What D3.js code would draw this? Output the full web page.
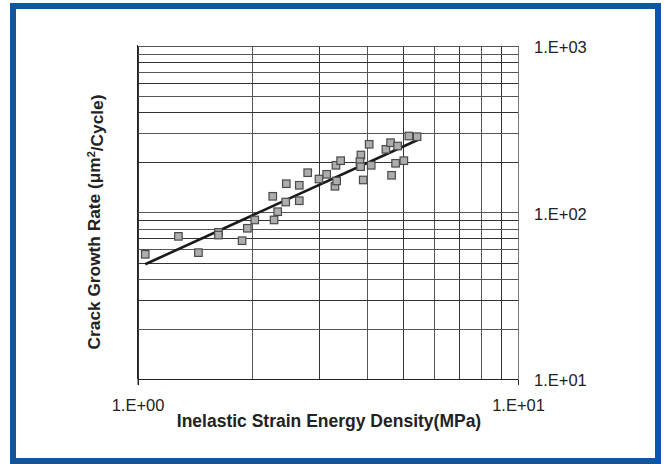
<!DOCTYPE html>
<html>
<head>
<meta charset="utf-8">
<script src="https://cdn.jsdelivr.net/npm/d3@7"></script>
<style>
  html, body { margin: 0; padding: 0; background: #fff; }
  svg { display: block; }
  text { font-family: "Liberation Sans", Arial, Helvetica, sans-serif; fill: #222; }
</style>
</head>
<body>
<svg id="chart" width="665" height="464"></svg>
<script>
// Data
const energyDensity = [1.048, 1.281, 1.446, 1.632, 1.632, 1.883, 1.944, 2.033, 2.267, 2.285,
  2.336, 2.452, 2.461, 2.662, 2.662, 2.801, 2.999, 3.142, 3.303, 3.337, 3.323, 3.419,
  3.865, 3.842, 3.858, 3.919, 4.063, 4.113, 4.496, 4.625, 4.653, 4.767, 4.826, 5.012,
  5.167, 5.431];
const growthRate = [56.1, 71.9, 57.4, 76.0, 73.2, 67.7, 80.4, 90.2, 125.1, 90.2,
  101.1, 115.6, 148.9, 145.7, 117.7, 173.4, 158.9, 169.6, 143.7, 154.6, 192.1, 204.7,
  221.5, 201.9, 188.4, 156.8, 256.8, 192.1, 239.7, 262.5, 167.3, 197.5, 250.8, 204.7,
  288.0, 285.3];
const trendX = [1.048, 5.498];
const trendY = [48.9, 275.2];
const xTickValues = [1, 10];
const xTickLabels = ["1.E+00", "1.E+01"];
const yTickValues = [10, 100, 1000];
const yTickLabels = ["1.E+01", "1.E+02", "1.E+03"];
const xTitle = "Inelastic Strain Energy Density(MPa)";

const svg = d3.select("#chart");

// Blue frame
svg.append("rect")
  .attr("x", 13).attr("y", 6).attr("width", 645).attr("height", 455)
  .attr("fill", "#fff").attr("stroke", "#0c56a5").attr("stroke-width", 6);

const x = d3.scaleLog().domain([1, 10]).range([137.5, 518]);
const y = d3.scaleLog().domain([10, 1000]).range([379, 46]);

const grid = svg.append("g").attr("shape-rendering", "crispEdges");
// Vertical grid
grid.selectAll("line.vx").data(x.ticks()).join("line")
  .attr("x1", d => Math.round(x(d)) + 0.5).attr("x2", d => Math.round(x(d)) + 0.5)
  .attr("y1", y(1000)).attr("y2", y(10))
  .attr("stroke", (d, i) => i % 2 ? "#555" : "#333").attr("stroke-width", 1);
// Horizontal grid
grid.selectAll("line.hy").data(y.ticks()).join("line")
  .attr("x1", x(1)).attr("x2", x(10))
  .attr("y1", d => Math.round(y(d)) + 0.5).attr("y2", d => Math.round(y(d)) + 0.5)
  .attr("stroke", (d, i) => i % 2 ? "#555" : "#333").attr("stroke-width", 1);

// Bottom axis
const xAxis = d3.axisBottom(x).tickValues(xTickValues)
  .tickFormat((d, i) => xTickLabels[i]).tickSize(6).tickPadding(14);
const gx = svg.append("g").attr("transform", `translate(0,${y(10)})`).call(xAxis);
gx.select(".domain").attr("stroke", "#222").attr("shape-rendering", "crispEdges");
gx.selectAll(".tick line").attr("stroke", "#222");
gx.selectAll("text").style("font-size", "16.5px").attr("fill", "#222")
  .style("font-family", "'Liberation Sans', Arial, sans-serif");

// Right-side tick labels (y)
const yAxis = d3.axisRight(y).tickValues(yTickValues)
  .tickFormat((d, i) => yTickLabels[i]).tickSize(0).tickPadding(16);
const gy = svg.append("g").attr("transform", `translate(${x(10)},0)`).call(yAxis);
gy.select(".domain").attr("stroke", "#777").attr("shape-rendering", "crispEdges");
gy.selectAll("text").style("font-size", "16.5px").attr("fill", "#222")
  .style("font-family", "'Liberation Sans', Arial, sans-serif").attr("dy", "0.4em");

// Left and top border
svg.append("line").attr("x1", x(1)).attr("x2", x(1)).attr("y1", y(1000) - 1).attr("y2", y(10))
  .attr("stroke", "#222").attr("shape-rendering", "crispEdges");
svg.append("line").attr("x1", x(1)).attr("x2", x(10)).attr("y1", y(1000)).attr("y2", y(1000))
  .attr("stroke", "#555").attr("shape-rendering", "crispEdges");

// Trend line
svg.append("line")
  .attr("x1", x(trendX[0])).attr("y1", y(trendY[0]))
  .attr("x2", x(trendX[1])).attr("y2", y(trendY[1]))
  .attr("stroke", "#1a1a1a").attr("stroke-width", 2.6);

// Markers
const pts = energyDensity.map((v, i) => [v, growthRate[i]]);
svg.append("g").selectAll("rect").data(pts).join("rect")
  .attr("x", d => x(d[0]) - 3.75).attr("y", d => y(d[1]) - 3.75)
  .attr("width", 7.5).attr("height", 7.5)
  .attr("fill", "#adadad").attr("stroke", "#4a4a4a").attr("stroke-width", 1.2);

// Axis titles
svg.append("text")
  .attr("x", 329).attr("y", 427)
  .attr("text-anchor", "middle")
  .style("font-size", "17.5px").style("font-weight", "bold")
  .text(xTitle);

const yt = svg.append("text")
  .attr("transform", "translate(100,222) rotate(-90)")
  .attr("text-anchor", "middle")
  .style("font-size", "17.3px").style("font-weight", "bold");
yt.append("tspan").text("Crack Growth Rate (μm");
yt.append("tspan").attr("dy", "-0.45em").style("font-size", "11px").text("2");
yt.append("tspan").attr("dy", "0.45em").text("/Cycle)");
</script>
</body>
</html>
